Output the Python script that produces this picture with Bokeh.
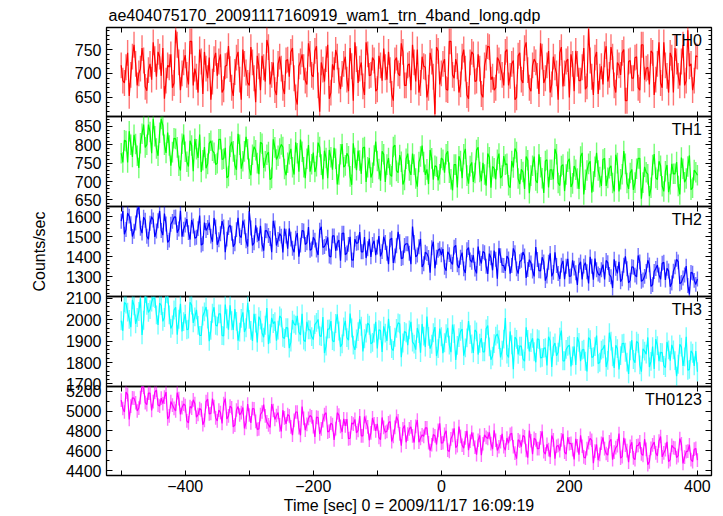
from bokeh.plotting import figure
from bokeh.layouts import column
from bokeh.models import (LinearAxis, FixedTicker, SingleIntervalTicker, Range1d,
                          Label, Title, ColumnDataSource)
from bokeh.embed import file_html
from bokeh.resources import INLINE

# ---------------- data ----------------
# samples on the whole 5 s grid (t = -500, -495, ... 400)
t_start = -500
t_step = 5
# samples half-way between them (t = -497.5, -492.5, ... 397.5)
t_start_half = -497.5

th0 = [
    717, 680, 743, 697, 760, 675, 710, 727, 664, 720,
    765, 693, 735, 753, 685, 713, 670, 790, 723, 700,
    738, 677, 767, 710, 660, 725, 745, 690, 645, 730,
    695, 740, 667, 717, 709, 653, 733, 687, 750, 702,
    675, 723, 640, 715, 737, 683, 755, 697, 665, 720,
    710, 657, 729, 745, 690, 635, 725, 713, 677, 741,
    693, 757, 620, 708, 730, 647, 719, 749, 685, 699,
    735, 663, 715, 765, 680, 723, 655, 740, 697, 727,
    667, 717, 752, 687, 707, 643, 733, 695, 745, 675,
    720, 760, 683, 660, 735, 713, 670, 725, 615, 747,
    700, 730, 665, 767, 690, 715, 677, 750, 655, 723,
    740, 685, 710, 650, 733, 755, 693, 670, 727, 697,
    745, 675, 720, 645, 737, 687, 753, 707, 663, 730,
    695, 763, 680, 717, 660, 735, 700, 743, 673, 725,
    650, 720, 747, 685, 713, 667, 793, 693, 733, 657,
    715, 740, 683, 755, 675, 723, 697, 750, 643, 727,
    690, 735, 665, 760, 710, 677, 743, 687, 765, 670,
    717, 660, 733, 753, 695, 725, 675, 790, 720, 685,
    735]
th0_half = [
    685, 713, 653, 735, 720, 700, 753, 672, 707, 687,
    730, 745, 695, 647, 717, 740, 680, 760, 665, 723,
    697, 767, 675, 693, 750, 657, 710, 733, 683, 743,
    725, 660, 715, 757, 670, 703, 745, 645, 720, 680,
    755, 690, 737, 665, 713, 770, 677, 723, 655, 735,
    670, 727, 693, 753, 650, 715, 740, 685, 763, 697,
    747, 675, 723, 683, 760, 660, 707, 735, 667, 720,
    687, 753, 643, 730, 710, 673, 765, 695, 733, 663,
    737, 685, 713, 745, 657, 727, 700, 763, 675, 717,
    665, 723, 750, 680, 715, 650, 743, 693, 755, 677,
    720, 667, 767, 697, 730, 660, 735, 710, 647, 745,
    683, 740, 657, 717, 757, 687, 665, 733, 713, 675,
    750, 695, 727, 650, 743, 680, 765, 670, 717, 723,
    657, 735, 690, 747, 677, 713, 645, 755, 700, 730,
    740, 663, 720, 685, 753, 673, 727, 655, 745, 693,
    677, 757, 697, 735, 660, 717, 743, 643, 725, 690,
    733, 670, 760, 687, 713, 747, 655, 720, 680, 765,
    695, 743, 660, 725, 675, 760, 685, 715, 665, 737]

th1 = [
    777, 812, 752, 800, 827, 770, 804, 855, 800, 835,
    870, 790, 833, 853, 778, 798, 780, 816, 743, 803,
    781, 741, 798, 816, 764, 726, 794, 748, 811, 778,
    750, 815, 762, 710, 795, 782, 732, 800, 755, 822,
    735, 773, 785, 720, 803, 755, 780, 710, 793, 770,
    801, 734, 751, 789, 719, 777, 814, 739, 762, 727,
    779, 742, 794, 706, 764, 786, 732, 762, 719, 802,
    744, 769, 691, 764, 784, 721, 794, 739, 711, 771,
    756, 702, 774, 746, 719, 794, 729, 772, 692, 762,
    730, 776, 708, 753, 798, 718, 693, 763, 743, 703,
    764, 724, 782, 706, 746, 684, 756, 774, 716, 742,
    699, 786, 726, 751, 689, 766, 741, 706, 776, 716,
    746, 690, 756, 790, 708, 733, 680, 758, 716, 768,
    696, 739, 669, 759, 732, 706, 774, 689, 746, 719,
    762, 695, 732, 680, 778, 705, 748, 670, 740, 730,
    688, 763, 710, 743, 673, 750, 706, 783, 696, 723,
    677, 735, 763, 697, 725, 660, 745, 710, 755, 687,
    728, 671, 748, 721, 688, 765, 698, 741, 678, 731,
    717]
th1_half = [
    752, 810, 837, 767, 802, 737, 830, 793, 855, 777,
    823, 770, 870, 800, 833, 743, 818, 793, 730, 828,
    754, 811, 728, 788, 828, 758, 736, 804, 784, 746,
    815, 760, 792, 715, 808, 745, 830, 735, 782, 788,
    717, 795, 750, 807, 737, 773, 705, 815, 760, 790,
    794, 717, 774, 739, 807, 727, 781, 709, 799, 747,
    726, 806, 746, 784, 709, 766, 792, 692, 774, 739,
    777, 714, 804, 731, 757, 791, 699, 764, 724, 809,
    734, 782, 699, 764, 714, 799, 724, 754, 704, 776,
    718, 746, 686, 768, 753, 733, 786, 705, 740, 720,
    759, 774, 724, 676, 746, 769, 709, 789, 694, 752,
    723, 793, 701, 719, 776, 683, 736, 759, 709, 769,
    748, 683, 738, 780, 693, 726, 768, 668, 743, 703,
    774, 709, 756, 684, 732, 789, 696, 742, 674, 754,
    685, 742, 708, 768, 665, 730, 755, 700, 778, 712,
    760, 688, 736, 696, 773, 673, 720, 748, 680, 733,
    697, 763, 653, 740, 720, 683, 775, 705, 743, 673,
    745, 693, 721, 753, 665, 735, 708, 771, 683, 725]

th2 = [
    1577, 1512, 1617, 1565, 1527, 1632, 1542, 1597, 1502, 1567,
    1583, 1528, 1628, 1508, 1563, 1483, 1576, 1598, 1538, 1500,
    1558, 1520, 1583, 1493, 1540, 1458, 1570, 1546, 1503, 1593,
    1460, 1515, 1548, 1488, 1558, 1450, 1535, 1505, 1580, 1480,
    1628, 1456, 1556, 1480, 1463, 1530, 1506, 1423, 1543, 1486,
    1503, 1540, 1440, 1488, 1423, 1518, 1458, 1528, 1470, 1433,
    1497, 1434, 1532, 1447, 1467, 1404, 1504, 1430, 1484, 1517,
    1410, 1462, 1385, 1488, 1470, 1425, 1498, 1440, 1400, 1480,
    1448, 1402, 1500, 1418, 1485, 1370, 1455, 1475, 1395, 1465,
    1418, 1550, 1400, 1450, 1350, 1423, 1397, 1445, 1343, 1433,
    1410, 1348, 1425, 1375, 1448, 1360, 1398, 1340, 1435, 1385,
    1408, 1318, 1393, 1426, 1353, 1416, 1333, 1388, 1443, 1358,
    1330, 1390, 1357, 1420, 1317, 1383, 1405, 1337, 1370, 1303,
    1387, 1330, 1375, 1305, 1417, 1323, 1357, 1290, 1380, 1353,
    1303, 1383, 1321, 1358, 1288, 1371, 1268, 1353, 1391, 1315,
    1336, 1288, 1371, 1301, 1388, 1318, 1276, 1358, 1341, 1284,
    1348, 1300, 1375, 1285, 1328, 1360, 1262, 1342, 1310, 1368,
    1285, 1330, 1270, 1350, 1375, 1273, 1310, 1258, 1323, 1283,
    1290]
th2_half = [
    1627, 1536, 1602, 1501, 1568, 1648, 1518, 1582, 1487, 1599,
    1499, 1579, 1531, 1615, 1471, 1562, 1597, 1520, 1629, 1537,
    1587, 1486, 1553, 1497, 1605, 1465, 1531, 1570, 1475, 1549,
    1485, 1577, 1423, 1545, 1517, 1465, 1594, 1496, 1549, 1451,
    1543, 1470, 1509, 1554, 1431, 1529, 1491, 1579, 1456, 1515,
    1422, 1503, 1541, 1443, 1492, 1401, 1531, 1461, 1548, 1439,
    1483, 1409, 1549, 1451, 1497, 1399, 1504, 1469, 1381, 1518,
    1419, 1499, 1383, 1467, 1523, 1425, 1394, 1489, 1461, 1408,
    1503, 1426, 1471, 1363, 1493, 1405, 1524, 1391, 1457, 1465,
    1363, 1472, 1409, 1489, 1366, 1416, 1321, 1475, 1398, 1440,
    1439, 1331, 1411, 1362, 1457, 1345, 1421, 1320, 1446, 1373,
    1339, 1451, 1367, 1420, 1315, 1395, 1431, 1291, 1406, 1357,
    1404, 1316, 1442, 1340, 1376, 1424, 1295, 1386, 1330, 1449,
    1331, 1398, 1282, 1373, 1303, 1422, 1317, 1359, 1289, 1390,
    1305, 1344, 1260, 1375, 1354, 1326, 1400, 1287, 1336, 1308,
    1361, 1382, 1312, 1245, 1343, 1375, 1291, 1403, 1270, 1351,
    1309, 1407, 1278, 1303, 1383, 1253, 1327, 1359, 1289, 1373,
    1343, 1252, 1329, 1388, 1266, 1295, 1354, 1214, 1319, 1263]

th3 = [
    1995, 2080, 2035, 1965, 2065, 2010, 2100, 1997, 2067, 2047,
    2104, 2022, 2077, 1992, 2122, 2022, 1975, 2058, 2002, 1945,
    2026, 1956, 2068, 2013, 1973, 1926, 2036, 2003, 1950, 2058,
    1970, 2027, 1924, 2004, 2067, 1952, 1992, 1942, 2034, 1962,
    2001, 1901, 1984, 2014, 1938, 1974, 1886, 2008, 1991, 1951,
    2008, 1912, 1962, 1895, 1980, 2018, 1928, 1905, 1990, 1952,
    1907, 1987, 1925, 2012, 1877, 1957, 1902, 1982, 1947, 1887,
    1994, 1904, 1961, 1859, 1944, 1969, 1911, 1984, 1887, 1937,
    1866, 1949, 1969, 1901, 1926, 1856, 1959, 1981, 1891, 1939,
    1952, 1895, 1860, 1935, 1980, 1872, 1922, 1885, 1965, 1865,
    1920, 1892, 1962, 1848, 1935, 1880, 1945, 1832, 1915, 1930,
    1845, 1943, 1890, 1850, 1957, 1873, 1830, 1923, 1907, 1857,
    2008, 1823, 1883, 1918, 1838, 1876, 1806, 1908, 1893, 1850,
    1911, 1821, 1866, 1786, 1901, 1876, 1831, 1918, 1808, 1861,
    1881, 1831, 1788, 1894, 1858, 1806, 1916, 1824, 1874, 1794,
    1858, 1882, 1810, 1900, 1775, 1865, 1832, 1890, 1802, 1855,
    1814, 1899, 1789, 1864, 1839, 1779, 1874, 1909, 1806, 1846,
    1776, 1859, 1882, 1809, 1792, 1872, 1826, 1764, 1854, 1784,
    1757]
th3_half = [
    1948, 2073, 2001, 2092, 1980, 2038, 1929, 2122, 2034, 2082,
    2098, 1975, 2066, 2010, 2119, 1959, 2045, 1930, 2074, 1991,
    1953, 2081, 1985, 2046, 1926, 2017, 2059, 1899, 2030, 1974,
    2027, 1926, 2070, 1953, 1995, 2049, 1902, 2006, 1942, 2078,
    1950, 2027, 1894, 1998, 1918, 2054, 1934, 1982, 1902, 2017,
    1918, 1963, 1867, 1998, 1974, 1942, 2027, 1897, 1953, 1921,
    1977, 2001, 1921, 1844, 1956, 1993, 1897, 2025, 1873, 1966,
    1916, 2028, 1881, 1910, 2001, 1852, 1937, 1974, 1894, 1990,
    1953, 1849, 1937, 2004, 1865, 1918, 1985, 1825, 1945, 1881,
    1990, 1886, 1961, 1846, 1923, 2014, 1865, 1939, 1830, 1958,
    1844, 1935, 1881, 1977, 1812, 1916, 1956, 1868, 1993, 1887,
    1952, 1837, 1914, 1850, 1973, 1813, 1888, 1933, 1824, 1909,
    1839, 1945, 1769, 1908, 1876, 1817, 1964, 1852, 1913, 1801,
    1907, 1824, 1869, 1920, 1779, 1891, 1848, 1949, 1808, 1875,
    1782, 1875, 1918, 1806, 1862, 1758, 1907, 1827, 1926, 1801,
    1864, 1779, 1939, 1827, 1880, 1768, 1888, 1848, 1747, 1904,
    1799, 1890, 1757, 1853, 1917, 1805, 1770, 1879, 1847, 1786,
    1896, 1808, 1859, 1736, 1885, 1784, 1920, 1768, 1843, 1853]

th0123 = [
    5110, 4990, 5165, 5050, 5130, 5000, 5135, 5240, 5065, 5180,
    5095, 5210, 5050, 5075, 5190, 4950, 5060, 5000, 5125, 5035,
    5055, 4880, 5030, 5075, 4965, 5010, 4905, 5120, 4975, 5045,
    4900, 4985, 5075, 4920, 5050, 4840, 5010, 4960, 5035, 4885,
    4960, 5025, 4895, 4820, 4990, 4950, 4860, 5070, 4915, 4985,
    4795, 4930, 4965, 4840, 4905, 4990, 4755, 4925, 4865, 4955,
    4843, 4938, 4768, 4903, 4983, 4798, 4863, 4823, 4958, 4788,
    4850, 4720, 4880, 4915, 4805, 4750, 4945, 4840, 4780, 4870,
    4870, 4710, 4835, 4795, 4895, 4745, 4945, 4770, 4820, 4685,
    4820, 4750, 4845, 4685, 4760, 4830, 4680, 4660, 4750, 4805,
    4675, 4765, 4605, 4720, 4825, 4650, 4745, 4625, 4800, 4695,
    4715, 4560, 4755, 4670, 4735, 4785, 4615, 4705, 4640, 4770,
    4605, 4675, 4775, 4575, 4710, 4640, 4740, 4530, 4700, 4725,
    4620, 4730, 4590, 4665, 4535, 4710, 4645, 4600, 4770, 4565,
    4670, 4610, 4720, 4560, 4645, 4525, 4680, 4705, 4595, 4505,
    4675, 4620, 4555, 4715, 4585, 4650, 4525, 4730, 4600, 4645,
    4528, 4648, 4688, 4553, 4613, 4488, 4658, 4578, 4698, 4538,
    4610, 4490, 4655, 4625, 4550, 4670, 4535, 4595, 4510, 4615,
    4505]
th0123_half = [
    5025, 5190, 4915, 5133, 5083, 5030, 5260, 5085, 5180, 5005,
    5190, 5060, 5130, 5140, 4920, 5095, 5027, 5185, 4965, 5070,
    4900, 5045, 5113, 4937, 5025, 4862, 5095, 4970, 5125, 4930,
    5008, 4875, 5125, 4950, 5033, 4857, 5045, 4983, 4825, 5070,
    4880, 5023, 4815, 4965, 5065, 4890, 4835, 5005, 4955, 4860,
    5008, 4870, 4950, 4757, 4990, 4832, 5045, 4807, 4925, 4940,
    4738, 4933, 4820, 4963, 4788, 4878, 4708, 4983, 4845, 4921,
    4918, 4725, 4868, 4780, 4950, 4750, 4885, 4705, 4930, 4800,
    4735, 4935, 4785, 4880, 4692, 4835, 4900, 4650, 4855, 4767,
    4840, 4682, 4908, 4725, 4745, 4830, 4600, 4763, 4662, 4875,
    4680, 4800, 4592, 4755, 4630, 4843, 4655, 4730, 4605, 4785,
    4635, 4705, 4555, 4760, 4723, 4672, 4805, 4602, 4690, 4640,
    4728, 4765, 4640, 4520, 4695, 4753, 4602, 4803, 4565, 4710,
    4620, 4795, 4565, 4610, 4753, 4520, 4653, 4710, 4585, 4735,
    4675, 4512, 4650, 4755, 4537, 4620, 4725, 4475, 4663, 4562,
    4735, 4572, 4690, 4510, 4630, 4773, 4540, 4655, 4485, 4685,
    4510, 4653, 4568, 4718, 4460, 4623, 4686, 4548, 4743, 4578,
    4690, 4510, 4630, 4530, 4723, 4472, 4590, 4660, 4490, 4623]

panel_names = ["TH0", "TH1", "TH2", "TH3", "TH0123"]
series = [th0, th1, th2, th3, th0123]
series_half = [th0_half, th1_half, th2_half, th3_half, th0123_half]
errors = [27, 28, 37, 44, 69]
colors = ["#ff0000", "#00ff00", "#0000ff", "#00ffff", "#ff00ff"]
y_limits = [(610, 796), (632, 877), (1203, 1650), (1688, 2108), (4350, 5247)]
y_major_step = [50, 50, 100, 100, 200]
y_minor_count = [5, 5, 5, 5, 2]

x_limits = (-523, 422)
x_tick_values = [-500, -400, -300, -200, -100, 0, 100, 200, 300, 400]
x_tick_labels = {-500: "", -400: "\u2212400", -300: "", -200: "\u2212200", -100: "",
                 0: "0", 100: "", 200: "200", 300: "", 400: "400"}

title_text = "ae404075170_20091117160919_wam1_trn_4band_long.qdp"
x_title = "Time [sec] 0 = 2009/11/17 16:09:19"
y_title = "Counts/sec"

FONT = "Liberation Sans"
FS = "16px"
FRAME_H = [89, 90, 90, 90, 89]
OVER = 10  # extra transparent border so edge labels are not clipped


def merged(whole, half):
    """Interleave the whole-grid and half-grid samples in time order."""
    t, v = [], []
    for i, val in enumerate(whole):
        t.append(t_start + t_step * i)
        v.append(val)
        if i < len(half):
            t.append(t_start_half + t_step * i)
            v.append(half[i])
    return t, v


def make_axis(ticker, show_labels, overrides=None, major_in=6, minor_in=3):
    ax = LinearAxis(ticker=ticker)
    ax.axis_line_color = None
    ax.major_tick_in = major_in
    ax.major_tick_out = 0
    ax.minor_tick_in = minor_in
    ax.minor_tick_out = 0
    ax.major_tick_line_color = "black"
    ax.minor_tick_line_color = "black"
    ax.major_tick_line_width = 1
    ax.minor_tick_line_width = 1
    ax.major_label_text_font = FONT
    if show_labels:
        ax.major_label_text_color = "black"
        ax.major_label_text_font_size = FS
        ax.major_label_standoff = 5
    else:
        ax.major_label_text_color = None
        ax.major_label_text_font_size = "0px"
        ax.major_label_standoff = 0
    if overrides:
        ax.major_label_overrides = overrides
    return ax


figs = []
for k in range(5):
    is_top = k == 0
    is_bottom = k == 4
    y0, y1 = y_limits[k]
    p = figure(frame_width=605, frame_height=FRAME_H[k],
               x_range=Range1d(*x_limits), y_range=Range1d(y0, y1),
               output_backend="svg", toolbar_location=None,
               x_axis_location=None, y_axis_location=None,
               min_border_left=106, min_border_right=12,
               min_border_top=27 if is_top else OVER,
               min_border_bottom=40 if is_bottom else OVER)
    if not is_top:
        p.margin = (-2 * OVER, 0, 0, 0)
    p.xgrid.grid_line_color = None
    p.ygrid.grid_line_color = None
    p.outline_line_color = "black"
    p.outline_line_width = 1.3
    p.background_fill_alpha = 0
    p.border_fill_alpha = 0

    yt = SingleIntervalTicker(interval=y_major_step[k], num_minor_ticks=y_minor_count[k])
    left = make_axis(yt, True)
    if k == 2:
        left.axis_label = y_title
        left.axis_label_text_font = FONT
        left.axis_label_text_font_size = FS
        left.axis_label_text_font_style = "normal"
        left.axis_label_text_color = "black"
        left.axis_label_standoff = 15
    p.add_layout(left, "left")
    right = make_axis(SingleIntervalTicker(interval=y_major_step[k],
                                           num_minor_ticks=y_minor_count[k]), False)
    p.add_layout(right, "right")

    below = make_axis(FixedTicker(ticks=x_tick_values, minor_ticks=[]), is_bottom,
                      overrides=x_tick_labels if is_bottom else None, major_in=5)
    if is_bottom:
        below.axis_label = x_title
        below.axis_label_text_font = FONT
        below.axis_label_text_font_size = FS
        below.axis_label_text_font_style = "normal"
        below.axis_label_text_color = "black"
        below.axis_label_standoff = 2
        below.major_label_standoff = 4
    p.add_layout(below, "below")
    above = make_axis(FixedTicker(ticks=x_tick_values, minor_ticks=[]), False, major_in=5)
    p.add_layout(above, "above")

    if is_top:
        p.add_layout(Title(text=title_text, align="left", text_font=FONT,
                           text_font_size=FS, text_font_style="normal",
                           text_color="black", standoff=7, offset=2), "above")

    t, vals = merged(series[k], series_half[k])
    err = errors[k]
    src = ColumnDataSource(data=dict(
        t=t, v=vals,
        lo=[v - err for v in vals], hi=[v + err for v in vals]))
    # error bars: light vertical bars spanning value +/- error
    p.segment(x0="t", y0="lo", x1="t", y1="hi", source=src,
              line_color=colors[k], line_alpha=0.55, line_width=1.4)
    p.line(x="t", y="v", source=src, line_color=colors[k], line_width=1.2)

    px_per_unit = FRAME_H[k] / (y1 - y0)
    p.add_layout(Label(x=x_limits[1] - 15, y=y1 - 4.0 / px_per_unit,
                       text=panel_names[k], text_align="right", text_baseline="top",
                       text_font=FONT, text_font_size=FS, text_color="black"))
    figs.append(p)

layout = column(*figs, spacing=0)
open("out.html", "w").write(file_html(layout, INLINE))
